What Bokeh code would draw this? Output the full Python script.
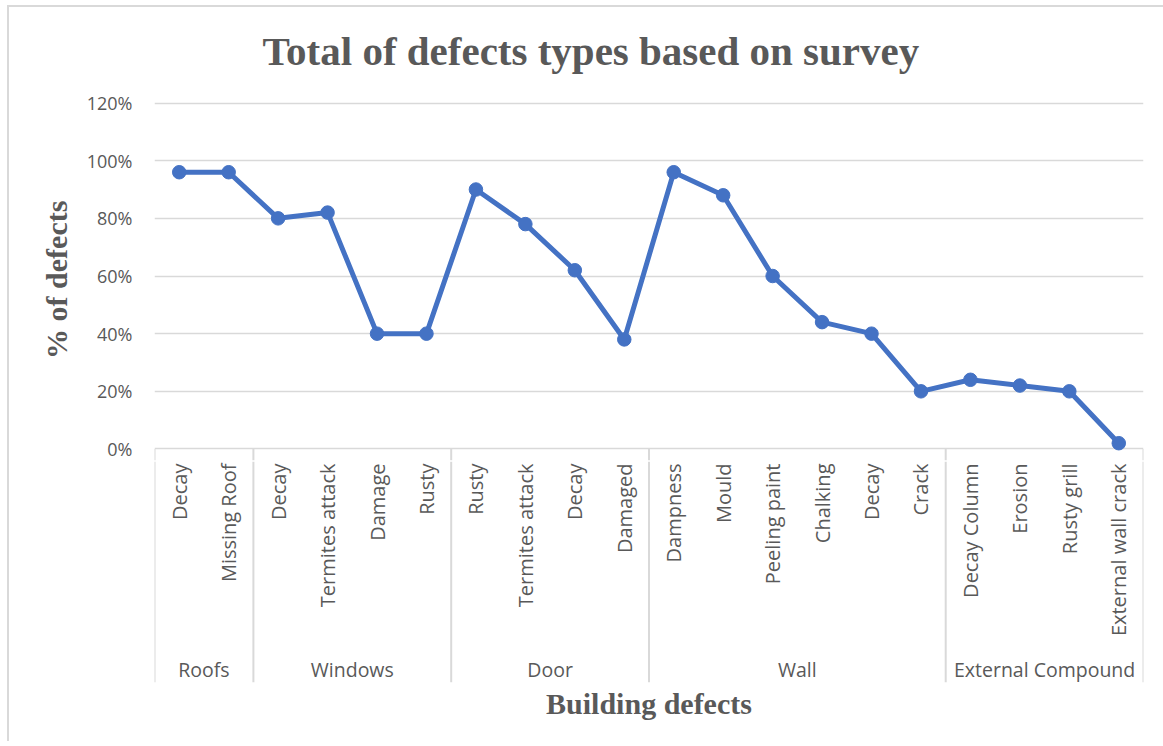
import math
from bokeh.plotting import figure
from bokeh.models import Range1d, FixedTicker, NumeralTickFormatter, ColumnDataSource
from bokeh.layouts import column
from bokeh.embed import file_html
from bokeh.resources import INLINE
from bokeh.core.properties import value

# ---------------- data ----------------
title_text = "Total of defects types based on survey"
y_label = "% of  defects"
x_label = "Building defects"

groups = ["Roofs", "Windows", "Door", "Wall", "External Compound"]
group_sizes = [2, 4, 4, 6, 4]
items = ["Decay", "Missing Roof",
         "Decay", "Termites attack", "Damage", "Rusty",
         "Rusty", "Termites attack", "Decay", "Damaged",
         "Dampness", "Mould", "Peeling paint", "Chalking", "Decay", "Crack",
         "Decay Column", "Erosion", "Rusty grill", "External wall crack"]
percent = [0.96, 0.96,
           0.80, 0.82, 0.40, 0.40,
           0.90, 0.78, 0.62, 0.38,
           0.96, 0.88, 0.60, 0.44, 0.40, 0.20,
           0.24, 0.22, 0.20, 0.02]
y_ticks = [0, 0.2, 0.4, 0.6, 0.8, 1.0, 1.2]

# ---------------- styles ----------------
GRAY_TEXT = "#595959"
GRID = "#d9d9d9"
BLUE = "#4472C4"
PAD = 0.04  # empty margin of the value range above 120% and below 0%

n = len(items)
xs = [i + 0.5 for i in range(n)]
src = ColumnDataSource(dict(x=xs, pct=percent, item=items))

bounds = [0]
for s in group_sizes:
    bounds.append(bounds[-1] + s)
centers = [(bounds[i] + bounds[i + 1]) / 2 for i in range(len(groups))]

# ---------------- top figure: line chart ----------------
p1 = figure(width=1154, height=454, x_range=Range1d(0, n),
            y_range=Range1d(-PAD, y_ticks[-1] + PAD),
            x_axis_type=None, output_backend="svg", toolbar_location=None,
            min_border_left=145, min_border_right=20, min_border_top=83, min_border_bottom=1)
p1.outline_line_color = None

p1.title.text = title_text
p1.title.text_font = "Liberation Serif"
p1.title.text_font_style = "bold"
p1.title.text_font_size = "41px"
p1.title.text_color = GRAY_TEXT
p1.title.align = "left"
p1.title.offset = 108
p1.title.standoff = 36

ax = p1.yaxis[0]
ax.ticker = FixedTicker(ticks=y_ticks)
ax.formatter = NumeralTickFormatter(format="0%")
ax.major_label_text_font = "Open Sans"
ax.major_label_text_font_size = "18px"
ax.major_label_text_color = GRAY_TEXT
ax.axis_line_color = None
ax.major_tick_line_color = None
ax.minor_tick_line_color = None
ax.major_label_standoff = 16
ax.axis_label = y_label
ax.axis_label_text_font = "Liberation Serif"
ax.axis_label_text_font_style = "bold"
ax.axis_label_text_font_size = "30px"
ax.axis_label_text_color = GRAY_TEXT
ax.axis_label_standoff = 11

p1.ygrid.ticker = FixedTicker(ticks=y_ticks)
p1.ygrid.grid_line_color = GRID
p1.ygrid.grid_line_width = 1.5

# group separators continue from the 0% line down into the label area
p1.segment(x0=bounds, y0=[0] * len(bounds), x1=bounds, y1=[-PAD] * len(bounds),
           line_color=GRID, line_width=2)

p1.line(x="x", y="pct", source=src, line_color=BLUE, line_width=5, line_join="round")
p1.scatter(x="x", y="pct", source=src, size=13.5, fill_color=BLUE, line_color=BLUE)

# ---------------- bottom figure: category axis ----------------
p2 = figure(width=1154, height=280, x_range=p1.x_range, y_range=Range1d(-233, -12),
            y_axis_type=None, output_backend="svg", toolbar_location=None,
            min_border_left=145, min_border_right=20, min_border_top=0, min_border_bottom=59)
p2.outline_line_color = None
p2.grid.visible = False

bx = p2.xaxis[0]
bx.ticker = FixedTicker(ticks=[])
bx.major_label_text_font_size = "0px"
bx.major_tick_out = 0
bx.major_tick_in = 0
bx.minor_tick_out = 0
bx.minor_tick_in = 0
bx.axis_line_color = None
bx.axis_label = x_label
bx.axis_label_text_font = "Liberation Serif"
bx.axis_label_text_font_style = "bold"
bx.axis_label_text_font_size = "30px"
bx.axis_label_text_color = GRAY_TEXT
bx.axis_label_standoff = 4

p2.segment(x0=bounds, y0=[-12] * len(bounds), x1=bounds, y1=[-233] * len(bounds),
           line_color=GRID, line_width=2)

p2.text(x="x", y=-14, text="item", source=src, angle=math.pi / 2,
        text_align="right", text_baseline="middle",
        text_font=value("Open Sans"), text_font_size="20px", text_color=GRAY_TEXT)

p2.text(x=centers, y=[-220] * len(groups), text=groups,
        text_align="center", text_baseline="middle",
        text_font=value("Open Sans"), text_font_size="19.5px", text_color=GRAY_TEXT)

layout = column(p1, p2, spacing=0,
                styles={"margin-left": "7px", "margin-top": "5px",
                        "border-left": "2px solid #d9d9d9",
                        "border-top": "2px solid #d9d9d9"})

open("out.html", "w").write(file_html(layout, INLINE))
